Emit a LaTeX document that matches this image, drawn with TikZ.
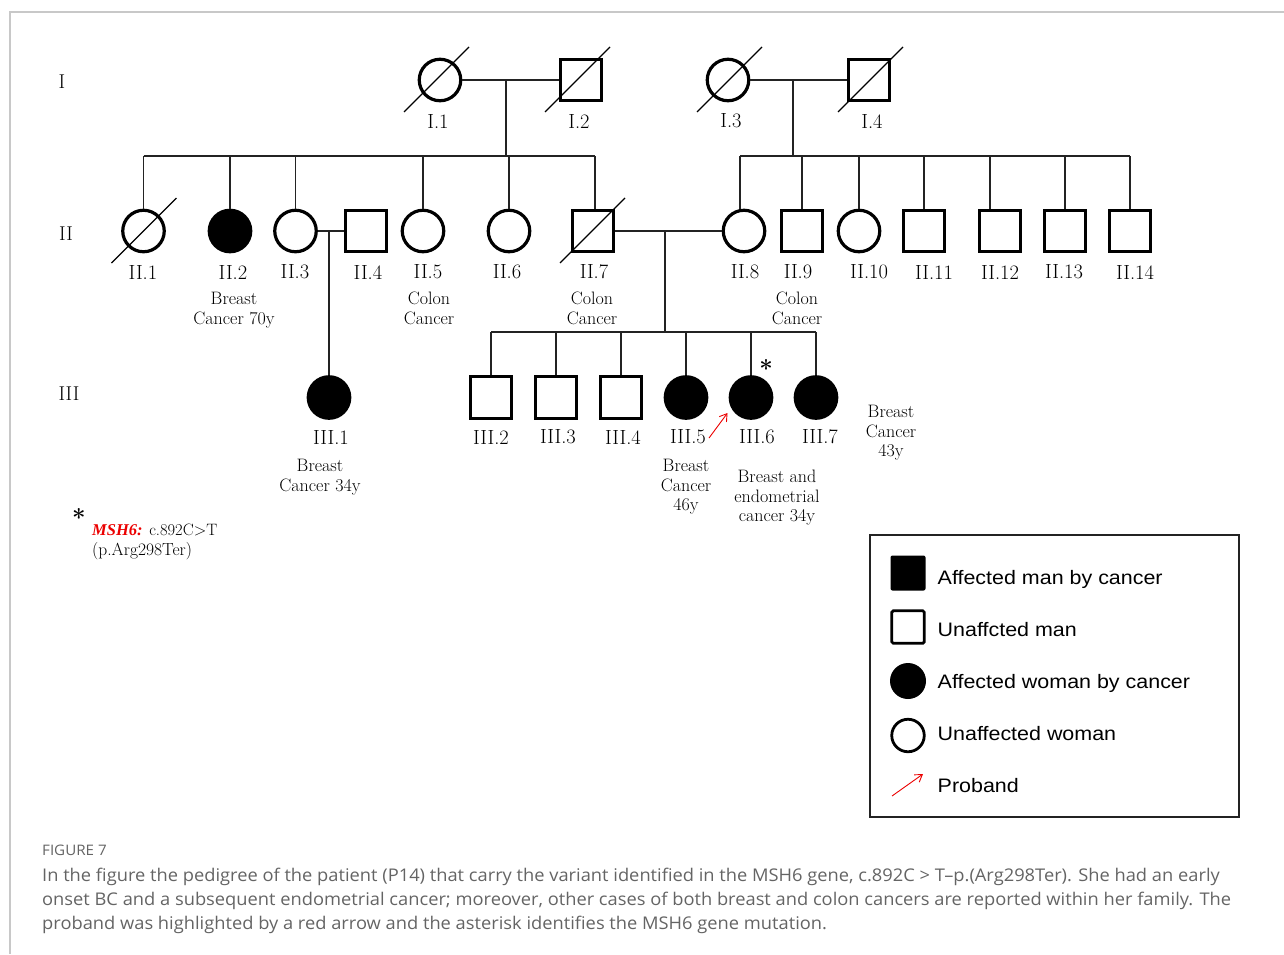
\documentclass[tikz,border=0pt]{standalone}
\usepackage{fontspec}
\newfontfamily\legendfont[FakeStretch=1.1]{Liberation Sans}
\newfontfamily\capfont[FakeStretch=1.045]{Open Sans}
\newfontfamily\genefont{Liberation Serif}
\usetikzlibrary{arrows.meta}
\definecolor{capgray}{RGB}{100,100,100}
\definecolor{framegray}{RGB}{200,200,200}
\definecolor{linegray}{RGB}{35,35,35}
\definecolor{mutred}{RGB}{235,0,0}

% diagonal stroke through a deceased individual
\newcommand\deceased[2]{%
  \draw[slash] ([shift={(-33+#2,32)}]#1.center) -- ([shift={(32+#2,-33)}]#1.center);}

\begin{document}
\begin{tikzpicture}[x=1pt,y=-1pt,
  man/.style={rectangle, draw, line width=3.2pt, minimum size=41.5pt, inner sep=0pt},
  woman/.style={circle, draw, line width=3.2pt, minimum size=41.5pt, inner sep=0pt},
  aff/.style={fill=black},
  conn/.style={draw=linegray, line width=1.3pt},
  slash/.style={draw=black, line width=1.1pt},
  idlbl/.style={font=\fontsize{20.5}{24}\selectfont, inner sep=0pt},
  genlbl/.style={font=\fontsize{20}{24}\selectfont, inner sep=0pt},
  note/.style={font=\fontsize{18}{19.5}\selectfont, align=center, inner sep=0pt, anchor=north},
  proband/.style={draw=mutred, line width=0.9pt, -{Straight Barb[length=7pt,width=9pt]}},
  legtxt/.style={font=\legendfont\fontsize{19.5}{22}\selectfont, inner sep=0pt, anchor=base west},
  capline/.style={font=\capfont\fontsize{17.5}{20}\selectfont, text=capgray, inner sep=0pt, anchor=base west}
]
\useasboundingbox (0,0) rectangle (1284,954);

% page frame (top and left edges)
\draw[framegray, line width=1.5pt] (10,954) -- (10,12) -- (1284,12);

% generation numerals
\node[genlbl] (gI)   at (62,82)  {I};
\node[genlbl] (gII)  at (66,234) {II};
\node[genlbl] (gIII) at (69,394) {III};

% ---------- generation I ----------
\node[woman] (I1) at (440,80) {};
\node[man]   (I2) at (581,80) {};
\node[woman] (I3) at (728,80) {};
\node[man]   (I4) at (869,80) {};
\deceased{I1}{-3}
\deceased{I2}{-3}
\deceased{I3}{2}
\deceased{I4}{2}
\node[idlbl] at (438,121) {I.1};
\node[idlbl] at (579,121) {I.2};
\node[idlbl] at (731,121) {I.3};
\node[idlbl] at (872,121) {I.4};

% ---------- generation II ----------
\node[woman]     (II1)  at (143.5,231) {};
\node[woman,aff] (II2)  at (230,231)   {};
\node[woman]     (II3)  at (295.5,231) {};
\node[man]       (II4)  at (366,231)   {};
\node[woman]     (II5)  at (423,231)   {};
\node[woman]     (II6)  at (509,231)   {};
\node[man]       (II7)  at (593,231)   {};
\node[woman]     (II8)  at (744,231)   {};
\node[man]       (II9)  at (802,231)   {};
\node[woman]     (II10) at (859,231)   {};
\node[man]       (II11) at (924,231)   {};
\node[man]       (II12) at (1000,231)  {};
\node[man]       (II13) at (1065,231)  {};
\node[man]       (II14) at (1130,231)  {};
\deceased{II1}{1}
\deceased{II7}{0}

\node[idlbl] at (143,272)  {II.1};
\node[idlbl] at (233,272)  {II.2};
\node[idlbl] at (295,272)  {II.3};
\node[idlbl] at (368,272)  {II.4};
\node[idlbl] at (428,272)  {II.5};
\node[idlbl] at (507,272)  {II.6};
\node[idlbl] at (594,272)  {II.7};
\node[idlbl] at (745,272)  {II.8};
\node[idlbl] at (798,272)  {II.9};
\node[idlbl] at (869,272)  {II.10};
\node[idlbl] at (934,272)  {II.11};
\node[idlbl] at (1000,272) {II.12};
\node[idlbl] at (1064,272) {II.13};
\node[idlbl] at (1135,272) {II.14};

\node[note] at (234,292) {Breast\\Cancer 70y};
\node[note] at (429,292) {Colon\\Cancer};
\node[note] at (592,292) {Colon\\Cancer};
\node[note] at (797,292) {Colon\\Cancer};

% ---------- generation III ----------
\node[woman,aff] (III1) at (329,397.5) {};
\node[man]       (III2) at (491,397.5) {};
\node[man]       (III3) at (556,397.5) {};
\node[man]       (III4) at (621,397.5) {};
\node[woman,aff] (III5) at (686,397.5) {};
\node[woman,aff] (III6) at (751,397.5) {};
\node[woman,aff] (III7) at (816,397.5) {};

\node[idlbl] at (331,437) {III.1};
\node[idlbl] at (491,437) {III.2};
\node[idlbl] at (558,437) {III.3};
\node[idlbl] at (623,437) {III.4};
\node[idlbl] at (688,437) {III.5};
\node[idlbl] at (757,437) {III.6};
\node[idlbl] at (820,437) {III.7};

\node[note] at (320,459) {Breast\\Cancer 34y};
\node[note] at (686,459) {Breast\\Cancer\\46y};
\node[note] at (777,470) {Breast and\\endometrial\\cancer 34y};
\node[note] at (891,405) {Breast\\Cancer\\43y};

% carrier mark and proband arrow
\node[font=\fontsize{24}{24}\selectfont\bfseries, inner sep=0pt] (star) at (766,368) {*};
\coordinate (pbA) at (709,438);
\coordinate (pbB) at (727.5,413);
\draw[proband] (pbA) -- (pbB);

% ---------- couples and sibships ----------
\coordinate (m1) at (506,80);
\coordinate (s1) at (506,156);
\coordinate (m2) at (793,80);
\coordinate (s2) at (793,156);
\coordinate (m3) at (329,231);
\coordinate (m4) at (665,231);
\coordinate (s3) at (665,332);

\draw[conn] (I1.east) -- (I2.west);
\draw[conn] (I3.east) -- (I4.west);
\draw[conn] (m1) -- (s1);
\draw[conn] (m2) -- (s2);

\draw[conn] (II1.north |- s1) -- ([xshift=2pt]II7.north |- s1);
\foreach \c in {II1,II2,II3,II5,II6}
  \draw[conn] (\c.north) -- (\c.north |- s1);
\draw[conn] ([xshift=2pt]II7.north) -- ([xshift=2pt]II7.north |- s1);

\draw[conn] ([xshift=-4pt]II8.north |- s2) -- (II14.north |- s2);
\draw[conn] ([xshift=-4pt]II8.north) -- ([xshift=-4pt]II8.north |- s2);
\foreach \c in {II9,II10,II11,II13,II14}
  \draw[conn] (\c.north) -- (\c.north |- s2);
\draw[conn] ([xshift=-10pt]II12.north) -- ([xshift=-10pt]II12.north |- s2);

\draw[conn] (II3.east) -- (II4.west);
\draw[conn] (m3) -- (III1.north);

\draw[conn] (II7.east) -- (II8.west);
\draw[conn] (m4) -- (s3);
\draw[conn] (III2.north |- s3) -- (III7.north |- s3);
\foreach \c in {III2,III3,III4,III5,III6,III7}
  \draw[conn] (\c.north) -- (\c.north |- s3);

% ---------- variant note ----------
\node[font=\fontsize{24}{24}\selectfont\bfseries, inner sep=0pt] (star2) at (79,517) {*};
\node[font=\fontsize{16.5}{19}\selectfont, inner sep=0pt, anchor=base west] (var1) at (92,535)
  {\textcolor{mutred}{\genefont\bfseries\itshape MSH6:} c.892C>T};
\node[font=\fontsize{17.5}{19}\selectfont, inner sep=0pt, anchor=base west] (var2) at (92,555)
  {(p.Arg298Ter)};

% ---------- legend ----------
\node[draw=linegray, line width=1.3pt, minimum width=369pt, minimum height=282pt, inner sep=0pt]
  (legend) at (1054.5,676) {};
\node[rectangle, fill=black, minimum size=35pt, inner sep=0pt, rounded corners=2pt] (Lam) at (908,573) {};
\node[rectangle, draw, line width=2.8pt, minimum size=32.5pt, inner sep=0pt, rounded corners=1.5pt] (Lum) at (908,627) {};
\node[circle, fill=black, minimum size=36pt, inner sep=0pt] (Law) at (908,681) {};
\node[circle, draw, line width=2.8pt, minimum size=32.5pt, inner sep=0pt] (Luw) at (908,735.5) {};
\coordinate (LpA) at (892,796);
\coordinate (LpB) at (923,774);
\draw[proband] (LpA) -- (LpB);
\node[legtxt] at (937.5,584) {Affected man by cancer};
\node[legtxt] at (937.5,636) {Unaffcted man};
\node[legtxt] at (937.5,688) {Affected woman by cancer};
\node[legtxt] at (937.5,740) {Unaffected woman};
\node[legtxt] at (937.5,792) {Proband};

% ---------- caption ----------
\node[font=\capfont\fontsize{14.5}{16}\selectfont, text=capgray, inner sep=0pt, anchor=base west]
  (figno) at (42,855) {FIGURE 7};
\node[capline] (cap1) at (42,881) {In the figure the pedigree of the patient (P14) that carry the variant identified in the MSH6 gene, c.892C > T–p.(Arg298Ter). She had an early};
\node[capline] (cap2) at (42,905) {onset BC and a subsequent endometrial cancer; moreover, other cases of both breast and colon cancers are reported within her family. The};
\node[capline] (cap3) at (42,929) {proband was highlighted by a red arrow and the asterisk identifies the MSH6 gene mutation.};
\end{tikzpicture}
\end{document}
